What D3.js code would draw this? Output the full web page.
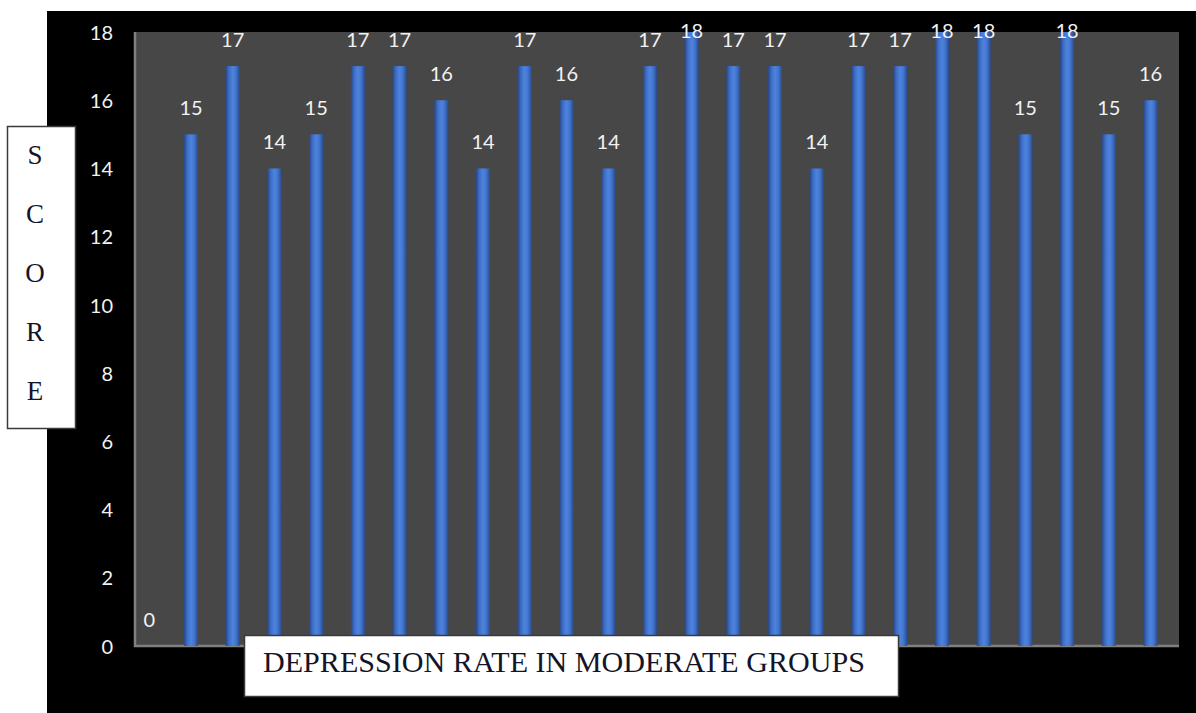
<!DOCTYPE html>
<html>
<head>
<meta charset="utf-8">
<script src="https://cdn.jsdelivr.net/npm/d3@7"></script>
<style>
  html, body { margin: 0; padding: 0; background: #ffffff; }
  svg { display: block; }
</style>
</head>
<body>
<svg id="chart" width="1196" height="713"></svg>
<script>
// Scores for each participant in the moderate group
const categories = d3.range(1, 26).map(String);
const scores = [0, 15, 17, 14, 15, 17, 17, 16, 14, 17, 16, 14, 17, 18, 17, 17, 14, 17, 17, 18, 18, 15, 18, 15, 16];
const yTicks = [0, 2, 4, 6, 8, 10, 12, 14, 16, 18];
const yAxisLetters = ["S", "C", "O", "R", "E"];
const xTitle = "DEPRESSION RATE IN MODERATE GROUPS";

const svg = d3.select("#chart");

// chart background
svg.append("rect")
  .attr("x", 47).attr("y", 11)
  .attr("width", 1196 - 47).attr("height", 713 - 11)
  .attr("fill", "#000");

// plot area
const plot = { left: 135, top: 32, right: 1179, bottom: 646 };
svg.append("rect")
  .attr("x", plot.left).attr("y", plot.top)
  .attr("width", plot.right - plot.left).attr("height", plot.bottom - plot.top)
  .attr("fill", "#474747");
svg.append("path")
  .attr("d", `M${plot.left},${plot.top} V${plot.bottom} H${plot.right}`)
  .attr("fill", "none")
  .attr("stroke", "#808080")
  .attr("stroke-width", 2.5);

const x = d3.scaleBand()
  .domain(categories)
  .range([128.4, 1171.4])
  .paddingInner(0)
  .paddingOuter(0);

const y = d3.scaleLinear()
  .domain([0, 18])
  .range([plot.bottom, plot.top]);

// cylinder-like shading on the bars
const defs = svg.append("defs");
const grad = defs.append("linearGradient")
  .attr("id", "barShade")
  .attr("x1", "0").attr("x2", "1").attr("y1", "0").attr("y2", "0");
[
  ["0%", "#27478a"],
  ["25%", "#3f6fc6"],
  ["50%", "#4d83de"],
  ["72%", "#4376cf"],
  ["100%", "#294c90"]
].forEach(([o, c]) => grad.append("stop").attr("offset", o).attr("stop-color", c));

const barW = 14;
const data = categories.map((c, i) => ({ c, v: scores[i] }));

svg.append("g")
  .selectAll("rect")
  .data(data)
  .join("rect")
  .attr("x", d => x(d.c) + x.bandwidth() / 2 - barW / 2)
  .attr("y", d => y(d.v))
  .attr("width", barW)
  .attr("height", d => y(0) - y(d.v))
  .attr("fill", "url(#barShade)");

// value labels
svg.append("g")
  .selectAll("text")
  .data(data)
  .join("text")
  .attr("x", d => x(d.c) + x.bandwidth() / 2)
  .attr("y", d => Math.max(y(d.v) - 19, 38))
  .attr("text-anchor", "middle")
  .attr("font-family", "Lato, 'Open Sans', sans-serif")
  .attr("font-size", 20)
  .attr("fill", "#f2f2f2")
  .text(d => d.v);

// y axis
const yAxis = d3.axisLeft(y)
  .tickValues(yTicks)
  .tickSize(0)
  .tickPadding(0);
const yg = svg.append("g")
  .attr("transform", "translate(113,0)")
  .call(yAxis);
yg.select(".domain").remove();
yg.selectAll("text")
  .attr("font-family", "Lato, 'Open Sans', sans-serif")
  .attr("font-size", 20)
  .attr("fill", "#f2f2f2")
  .attr("dy", "0.36em");

// vertical axis title box
svg.append("rect")
  .attr("x", 7.5).attr("y", 126.5)
  .attr("width", 68).attr("height", 302)
  .attr("fill", "#fff")
  .attr("stroke", "#3a3a3a")
  .attr("stroke-width", 1.5);
svg.append("g")
  .selectAll("text")
  .data(yAxisLetters)
  .join("text")
  .attr("x", 35)
  .attr("y", (d, i) => 164 + i * 59)
  .attr("text-anchor", "middle")
  .attr("font-family", "'Liberation Serif', 'Times New Roman', serif")
  .attr("font-size", 27)
  .attr("fill", "#141428")
  .text(d => d);

// horizontal axis title box
svg.append("rect")
  .attr("x", 244.5).attr("y", 635.5)
  .attr("width", 654).attr("height", 61)
  .attr("fill", "#fff")
  .attr("stroke", "#3a3a3a")
  .attr("stroke-width", 1.5);
svg.append("text")
  .attr("x", 263)
  .attr("y", 672)
  .attr("font-family", "'Liberation Serif', 'Times New Roman', serif")
  .attr("font-size", 30)
  .attr("textLength", 602)
  .attr("lengthAdjust", "spacingAndGlyphs")
  .attr("fill", "#141428")
  .text(xTitle);
</script>
</body>
</html>
